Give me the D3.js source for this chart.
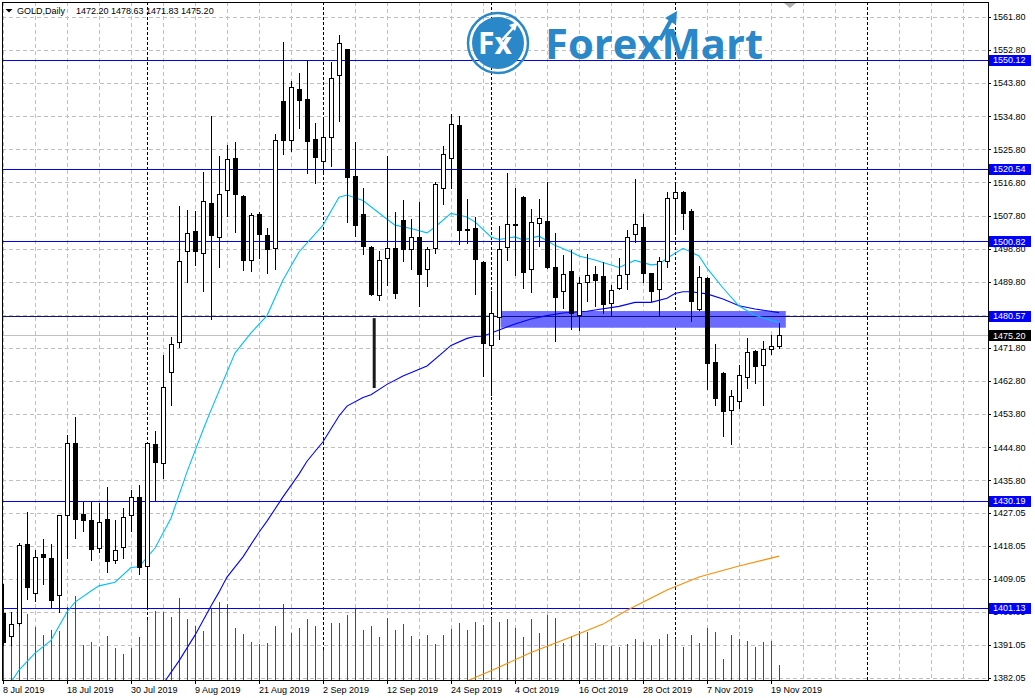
<!DOCTYPE html>
<html><head><meta charset="utf-8">
<script src="https://cdn.jsdelivr.net/npm/d3@7"></script>
<style>
html,body{margin:0;padding:0;background:#fff;}
svg{display:block;font-family:"Liberation Sans",Arial,sans-serif;}
</style></head>
<body><svg id="c" width="1035" height="698"></svg>
<script>
// ---------------- DATA ----------------
const symbolTitle = "GOLD,Daily";
const lastQuote = "1472.20 1478.63 1471.83 1475.20";

const open = [1399.71,1393.54,1397.07,1418.39,1405.23,1415.75,1414.67,1404.69,1426.44,1445.86,
1426.55,1425.00,1417.47,1425.27,1414.20,1417.74,1426.44,1431.26,1412.57,1445.67,
1440.58,1465.33,1473.49,1498.24,1503.60,1497.70,1511.21,1502.05,1514.67,1523.45,
1513.12,1495.63,1508.22,1502.51,1498.89,1538.95,1528.26,1542.13,1539.50,1528.62,
1522.55,1529.08,1545.94,1553.01,1518.56,1508.22,1499.25,1486.11,1496.17,1498.97,
1506.59,1498.62,1501.96,1493.18,1498.89,1515.21,1523.37,1532.42,1504.14,1504.41,
1495.17,1472.51,1480.29,1499.16,1505.50,1512.84,1493.18,1505.69,1506.32,1493.81,
1487.36,1492.72,1480.83,1489.81,1491.82,1491.28,1483.93,1488.01,1491.82,1502.70,
1504.69,1492.17,1487.82,1495.44,1512.49,1514.12,1509.04,1482.30,1490.82,1467.89,
1464.98,1454.83,1457.28,1463.81,1470.96,1467.07,1471.42,1472.20];
const high = [1407.60,1400.06,1418.75,1427.18,1416.84,1419.83,1418.47,1426.40,1448.12,1453.01,
1430.17,1430.17,1429.62,1433.98,1425.00,1428.18,1433.16,1434.52,1446.00,1449.21,
1469.87,1474.77,1510.48,1509.31,1509.04,1519.64,1534.87,1523.99,1526.99,1527.80,
1513.30,1508.49,1508.76,1504.41,1529.98,1555.00,1544.47,1546.57,1549.91,1532.97,
1534.52,1549.56,1556.90,1553.20,1527.80,1515.29,1499.50,1498.16,1523.99,1508.76,
1512.03,1506.86,1511.48,1499.25,1517.00,1526.71,1535.34,1534.95,1512.30,1507.40,
1495.40,1487.36,1504.96,1519.37,1515.29,1513.00,1509.58,1512.30,1516.84,1503.05,
1497.07,1498.43,1491.17,1497.34,1494.00,1495.17,1488.91,1496.25,1503.87,1517.74,
1508.30,1492.30,1496.44,1514.28,1516.57,1514.48,1509.58,1494.00,1491.00,1472.87,
1465.20,1460.36,1467.15,1474.50,1471.23,1473.68,1475.40,1478.63];
const low = [1391.01,1391.01,1396.44,1403.60,1403.05,1407.59,1401.42,1400.06,1414.67,1420.19,
1422.09,1414.20,1416.22,1410.94,1413.39,1414.75,1422.09,1410.40,1401.34,1430.44,
1436.42,1456.36,1472.13,1489.81,1494.35,1487.36,1479.75,1493.89,1507.76,1503.41,
1493.07,1492.80,1496.34,1492.26,1493.34,1524.62,1525.44,1531.69,1519.45,1516.73,
1519.29,1521.36,1533.59,1506.13,1502.24,1497.42,1486.19,1484.83,1488.91,1485.46,
1495.44,1493.34,1483.28,1488.72,1497.70,1510.94,1515.29,1500.14,1500.42,1486.55,
1464.16,1459.00,1474.31,1495.63,1491.63,1488.01,1486.93,1499.60,1493.53,1473.76,
1482.74,1477.03,1476.67,1484.64,1483.20,1481.38,1480.75,1487.82,1487.74,1500.52,
1489.81,1484.56,1480.75,1493.72,1503.24,1504.22,1479.20,1482.20,1460.55,1456.20,
1447.85,1445.59,1455.46,1460.98,1462.34,1456.20,1470.15,1471.83];
const close = [1391.82,1396.64,1418.12,1406.86,1414.86,1415.02,1403.33,1426.28,1445.86,1425.36,
1425.08,1417.20,1424.46,1413.85,1416.84,1425.73,1431.17,1412.30,1445.86,1440.77,
1461.09,1472.87,1495.44,1503.05,1498.24,1511.67,1502.59,1513.66,1523.18,1513.74,
1495.79,1507.95,1502.86,1498.78,1528.26,1528.43,1542.68,1539.14,1528.16,1523.80,
1529.08,1545.13,1554.64,1518.20,1505.31,1499.60,1486.55,1495.63,1498.89,1486.82,
1498.62,1501.96,1491.98,1498.62,1516.30,1524.46,1532.62,1503.95,1504.00,1496.06,
1473.22,1481.21,1498.62,1505.42,1505.30,1492.53,1505.96,1507.13,1493.89,1485.73,
1491.82,1481.21,1489.37,1491.55,1490.35,1483.66,1487.47,1491.55,1501.88,1505.42,
1492.26,1487.36,1495.36,1512.49,1514.12,1508.41,1484.64,1491.01,1467.78,1458.26,
1454.73,1458.64,1464.35,1470.61,1466.80,1471.42,1472.24,1475.20];
const volume = [54000,43000,58000,66000,53000,45000,50000,49000,73000,84000,
35000,38000,33000,44000,32000,26000,32000,43000,60000,69000,
68000,63000,82000,61000,54000,49000,72000,78000,76000,52000,
46000,38000,36000,37000,54000,76000,47000,52000,61000,54000,
30000,57000,57000,65000,71000,50000,54000,43000,62000,50000,
56000,44000,41000,45000,36000,45000,51000,57000,50000,58000,
55000,62000,58000,61500,52000,43000,61000,47000,65500,62500,
37000,44000,49000,48000,37000,35000,34000,33000,36000,41000,
38000,35000,41000,46000,41000,33000,45000,37000,52000,48000,
21500,45000,41000,39000,33000,38000,39000,15000];

// moving averages: [bar, value]
const maFastBars = [1,2,4,6,8,9,11,12,14,16,17,19,21,23,25,26,29,31,33,35,37,40,42,43,45,47,49,51,53,54,56,58,59,61,62,64,65,67,69,71,72,74,77,79,81,82,83,85,87,88,90,92,94,96,97];
const maFastVals = [1380.9,1384.2,1388.8,1392.3,1400.0,1402.7,1405.7,1407.1,1408.1,1412.1,1412.3,1417.4,1425.5,1438.1,1449.5,1454.9,1470.4,1475.9,1480.6,1490.3,1497.9,1505.2,1512.8,1513.4,1511.9,1508.5,1505.2,1504.3,1503.1,1504.7,1508.4,1507.4,1506.1,1502.0,1501.3,1502.0,1501.2,1502.2,1499.7,1497.9,1496.8,1495.7,1493.7,1495.6,1494.4,1494.6,1496.2,1498.9,1496.8,1493.5,1488.1,1483.2,1480.7,1479.3,1478.8];
const maMidBars = [20,22,24,26,27,28,30,32,33,35,37,38,40,42,43,45,46,48,50,53,55,56,58,59,60,62,64,66,68,70,73,77,79,81,83,84,85,86,88,90,92,94,97];
const maMidVals = [1380.4,1386.7,1393.7,1401.6,1405.4,1409.5,1415.0,1421.7,1424.7,1431.3,1437.5,1441.0,1446.3,1453.3,1456.0,1458.3,1459.1,1461.9,1464.2,1466.9,1470.6,1472.5,1474.4,1474.9,1475.0,1476.7,1478.3,1479.7,1480.6,1481.3,1481.8,1483.1,1484.2,1484.2,1485.3,1486.6,1487.1,1487.1,1486.5,1485.1,1483.3,1482.4,1481.4];
const maSlowBars = [58,62,66,71,75,78,83,87,92,97];
const maSlowVals = [1381.2,1385.0,1389.0,1393.2,1396.7,1400.5,1406.0,1409.5,1412.5,1415.2];

const priceTicks = [1561.80,1552.80,1543.80,1534.80,1525.80,1516.80,1507.80,1498.80,1489.80,1480.80,
1471.80,1462.80,1453.80,1444.80,1435.80,1427.05,1418.05,1409.05,1400.05,1391.05,1382.05];
const dateLabels = ["8 Jul 2019","18 Jul 2019","30 Jul 2019","9 Aug 2019","21 Aug 2019","2 Sep 2019",
"12 Sep 2019","24 Sep 2019","4 Oct 2019","16 Oct 2019","28 Oct 2019","7 Nov 2019","19 Nov 2019"];
const dateLabelBars = [0,8,16,24,32,40,48,56,64,72,80,88,96];
const monthSeparatorBars = [18,40,61,84,108];

const levelPrices = [1550.12,1520.54,1500.82,1480.57,1430.19,1401.13];
const levelColors = ["#0000ff","#0000ff","#0000ff","#101080","#0000ff","#0000ff"];
const currentPrice = 1475.20;
const zone = {startBar:62.2, endBar:97.85, top:1481.84, bottom:1477.30};
const markSegment = {bar:46.4, from:1479.9, to:1460.9};

// ---------------- SCALES ----------------
const svg = d3.select("#c");
const L = 2, T = 2, R = 988, B = 680;
const xs = d3.scaleLinear().domain([0, 123]).range([3, 987]);
const ys = d3.scaleLinear().domain([1382.05, 1561.80]).range([678, 17]);
const vs = d3.scaleLinear().domain([0, 100000]).range([B, B - 100]);
const px = v => Math.round(v) + 0.5;
const N = open.length;

svg.append("defs").append("clipPath").attr("id","clip")
  .append("rect").attr("x",L).attr("y",T).attr("width",R-L).attr("height",B-T);

const plot = svg.append("g").attr("clip-path","url(#clip)");

// grid
const grid = plot.append("g").attr("shape-rendering","crispEdges");
priceTicks.forEach(v=>{
  grid.append("line").attr("x1",L).attr("x2",R).attr("y1",px(ys(v))).attr("y2",px(ys(v)))
    .attr("stroke","#c0c0c0").attr("stroke-dasharray","4,3");
});
d3.range(0, 124, 4).forEach(i=>{
  if (monthSeparatorBars.includes(i)) return;
  grid.append("line").attr("x1",px(xs(i))).attr("x2",px(xs(i))).attr("y1",T).attr("y2",B)
    .attr("stroke","#c0c0c0").attr("stroke-dasharray","4,3");
});
monthSeparatorBars.forEach(i=>{
  grid.append("line").attr("x1",px(xs(i))).attr("x2",px(xs(i))).attr("y1",T).attr("y2",B)
    .attr("stroke","#000").attr("stroke-dasharray","3,2");
});

// zone rectangle
plot.append("rect").attr("x",xs(zone.startBar)).attr("y",ys(zone.top))
  .attr("width",xs(zone.endBar)-xs(zone.startBar)).attr("height",ys(zone.bottom)-ys(zone.top))
  .attr("fill","#6b6bff");

// volumes
plot.append("g").attr("shape-rendering","crispEdges").selectAll("rect").data(volume).join("rect")
  .attr("x",(d,i)=>Math.round(xs(i))).attr("width",1)
  .attr("y",d=>vs(d)).attr("height",d=>B-vs(d)).attr("fill","#008000");

// current price line
plot.append("line").attr("x1",L).attr("x2",R).attr("y1",px(ys(currentPrice))).attr("y2",px(ys(currentPrice)))
  .attr("stroke","#c0c0c0").attr("shape-rendering","crispEdges");

// level lines
levelPrices.forEach((p,k)=>{
  plot.append("line").attr("x1",L).attr("x2",R).attr("y1",px(ys(p))).attr("y2",px(ys(p)))
    .attr("stroke",levelColors[k]).attr("shape-rendering","crispEdges");
});

// moving averages
const lineGen = d3.line().x(d=>xs(d[0])).y(d=>ys(d[1]));
[[maSlowBars,maSlowVals,"#ff8c00"],[maMidBars,maMidVals,"#0000ff"],[maFastBars,maFastVals,"#00bfff"]]
.forEach(([b,v,c])=>{
  plot.append("path").attr("d",lineGen(b.map((x,i)=>[x,v[i]]))).attr("fill","none")
    .attr("stroke",c).attr("stroke-width",1.1);
});

// drawn segment
plot.append("line").attr("x1",xs(markSegment.bar)).attr("x2",xs(markSegment.bar))
  .attr("y1",ys(markSegment.from)).attr("y2",ys(markSegment.to))
  .attr("stroke","#1a1a1a").attr("stroke-width",3);

// candles
const cg = plot.append("g").attr("shape-rendering","crispEdges");
d3.range(N).forEach(i=>{
  const cx = px(xs(i));
  cg.append("line").attr("x1",cx).attr("x2",cx).attr("y1",Math.round(ys(high[i]))).attr("y2",Math.round(ys(low[i]))+1)
    .attr("stroke","#000");
  const top = Math.round(ys(Math.max(open[i],close[i])));
  const bot = Math.round(ys(Math.min(open[i],close[i])));
  const bear = close[i] < open[i];
  if (bot - top < 1) {
    cg.append("line").attr("x1",cx-2.5).attr("x2",cx+3).attr("y1",top+0.5).attr("y2",top+0.5).attr("stroke","#000");
  } else {
    cg.append("rect").attr("x",cx-2).attr("y",top+0.5).attr("width",4).attr("height",bot-top)
      .attr("fill",bear?"#000":"#fff").attr("stroke","#000");
  }
});

// frame
svg.append("rect").attr("x",L+0.5).attr("y",T+0.5).attr("width",R-L).attr("height",B-T)
  .attr("fill","none").attr("stroke","#000").attr("shape-rendering","crispEdges");

// right axis labels
const ax = svg.append("g").attr("font-size","9px").attr("fill","#000");
priceTicks.forEach(v=>{
  const y = ys(v);
  svg.append("line").attr("x1",R).attr("x2",R+3).attr("y1",px(y)).attr("y2",px(y)).attr("stroke","#000").attr("shape-rendering","crispEdges");
  ax.append("text").attr("x",993).attr("y",y+3.3).text(v.toFixed(2));
});

// price tags
function tag(p, color){
  const y = ys(p);
  svg.append("rect").attr("x",989).attr("y",Math.round(y)-5).attr("width",42).attr("height",11).attr("fill",color);
  svg.append("text").attr("x",993).attr("y",y+3.3).attr("font-size","9px").attr("fill","#fff").text(p.toFixed(2));
}
levelPrices.forEach(p=>tag(p,"#0000ff"));
tag(currentPrice,"#000");

// bottom axis
const bx = svg.append("g").attr("font-size","9px").attr("fill","#000");
dateLabels.forEach((t,k)=>{
  const x = px(xs(dateLabelBars[k]));
  svg.append("line").attr("x1",x).attr("x2",x).attr("y1",B).attr("y2",B+4).attr("stroke","#000").attr("shape-rendering","crispEdges");
  bx.append("text").attr("x",x-0.5).attr("y",692.5).text(t);
});

// header
svg.append("path").attr("d","M5.5,9 L12.5,9 L9,12.5 Z").attr("fill","#000");
svg.append("text").attr("x",17).attr("y",13.5).attr("font-size","9px").text(symbolTitle);
svg.append("text").attr("x",76).attr("y",13.5).attr("font-size","9px").text(lastQuote);

// small shift marker
svg.append("path").attr("d","M784,3 L796,3 L790,8 Z").attr("fill","#b0b0b0");

// logo
const lg = svg.append("g");
const blue = "#2b88c8";
lg.append("circle").attr("cx",498).attr("cy",43).attr("r",30).attr("fill","none").attr("stroke",blue).attr("stroke-width",2.5);
lg.append("circle").attr("cx",498).attr("cy",43).attr("r",26).attr("fill",blue);
lg.append("text").attr("x",478).attr("y",54).attr("font-family","'Open Sans',sans-serif").attr("font-weight","bold")
  .attr("font-size","30px").attr("fill","#fff").text("Fx");
lg.append("path").attr("d","M502,40 L514,27").attr("stroke","#fff").attr("stroke-width",2.5);
lg.append("path").attr("d","M518,22 L509,25 L515,31 Z").attr("fill","#fff");
lg.append("text").attr("x",545).attr("y",58.5).attr("font-family","'Open Sans',sans-serif").attr("font-weight","bold")
  .attr("font-size","42px").attr("textLength",218).attr("lengthAdjust","spacingAndGlyphs").attr("fill",blue).text("ForexMart");
lg.append("path").attr("d","M660,40 L671,20").attr("stroke",blue).attr("stroke-width",4);
lg.append("path").attr("d","M677,11 L665,18 L676,25 Z").attr("fill",blue);
</script></body></html>
